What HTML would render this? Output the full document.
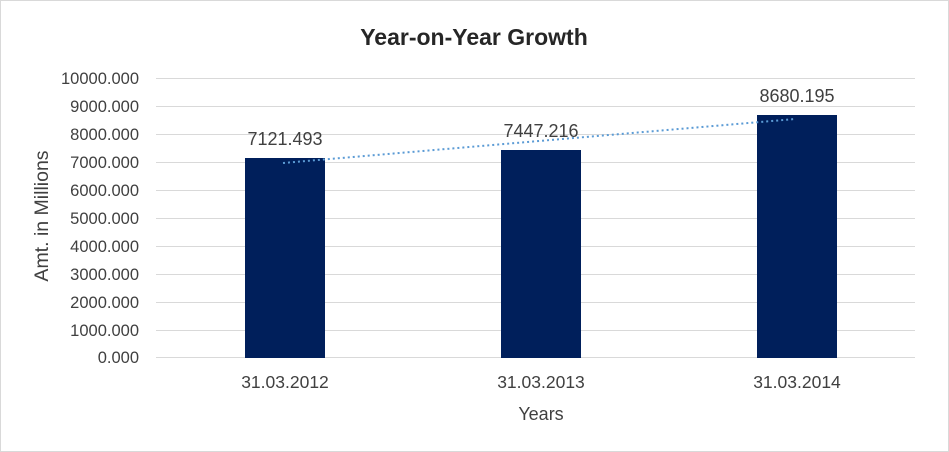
<!DOCTYPE html>
<html><head><style>body{margin:0;background:#fff}svg{display:block}</style></head><body>
<svg width="949" height="452" xmlns="http://www.w3.org/2000/svg" font-family="'Liberation Sans', sans-serif">
<rect x="0.5" y="0.5" width="948" height="451" fill="#fff" stroke="#d9d9d9"/>
<text x="474" y="45" text-anchor="middle" font-size="23" font-weight="bold" fill="#262626">Year-on-Year Growth</text>
<g stroke="#d9d9d9" stroke-width="1">
<line x1="156" x2="915" y1="78.5" y2="78.5"/><line x1="156" x2="915" y1="106.5" y2="106.5"/>
<line x1="156" x2="915" y1="134.5" y2="134.5"/><line x1="156" x2="915" y1="162.5" y2="162.5"/>
<line x1="156" x2="915" y1="190.5" y2="190.5"/><line x1="156" x2="915" y1="218.5" y2="218.5"/>
<line x1="156" x2="915" y1="246.5" y2="246.5"/><line x1="156" x2="915" y1="274.5" y2="274.5"/>
<line x1="156" x2="915" y1="302.5" y2="302.5"/><line x1="156" x2="915" y1="330.5" y2="330.5"/>
<line x1="156" x2="915" y1="357.5" y2="357.5"/>
</g>
<g font-size="16.5" fill="#404040" text-anchor="end">
<text x="139" y="84">10000.000</text><text x="139" y="112">9000.000</text><text x="139" y="140">8000.000</text>
<text x="139" y="168">7000.000</text><text x="139" y="196">6000.000</text><text x="139" y="224">5000.000</text>
<text x="139" y="252">4000.000</text><text x="139" y="280">3000.000</text><text x="139" y="308">2000.000</text>
<text x="139" y="336">1000.000</text><text x="139" y="363">0.000</text>
</g>
<text transform="translate(48,216) rotate(-90)" text-anchor="middle" font-size="19.5" fill="#404040">Amt. in Millions</text>
<g fill="#001f5b">
<rect x="245" y="158" width="80" height="200"/>
<rect x="501" y="150" width="80" height="208"/>
<rect x="757" y="115" width="80" height="243"/>
</g>
<line x1="283" y1="163" x2="795" y2="119" stroke="#5b9bd5" stroke-width="2" stroke-dasharray="2,3"/>
<g font-size="18" fill="#404040" text-anchor="middle">
<text x="285" y="145">7121.493</text><text x="541" y="137">7447.216</text><text x="797" y="102">8680.195</text>
</g>
<g font-size="17.5" fill="#404040" text-anchor="middle">
<text x="285" y="388">31.03.2012</text><text x="541" y="388">31.03.2013</text><text x="797" y="388">31.03.2014</text>
</g>
<text x="541" y="420" text-anchor="middle" font-size="18" fill="#404040">Years</text>
</svg>
</body></html>
